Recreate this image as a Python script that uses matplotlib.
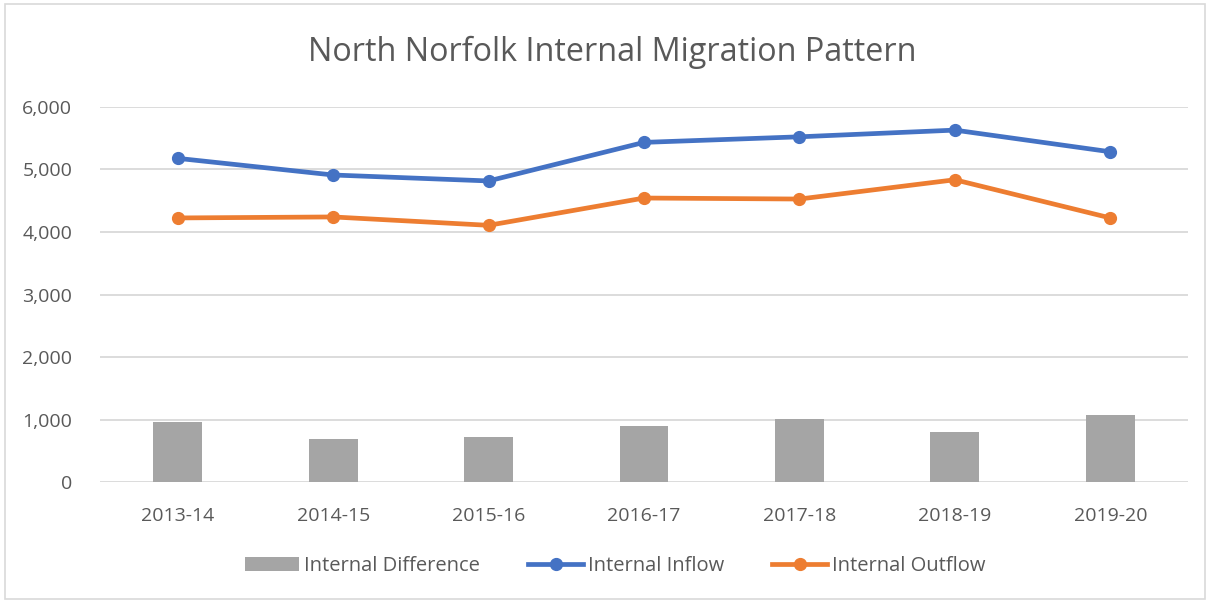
import matplotlib
matplotlib.use("Agg")
import matplotlib.pyplot as plt
from matplotlib.patches import Rectangle
from matplotlib.ticker import FuncFormatter
import numpy as np

categories = ["2013-14", "2014-15", "2015-16", "2016-17", "2017-18", "2018-19", "2019-20"]
internal_difference = [963, 695, 716, 904, 1005, 803, 1069]
internal_inflow = [5175, 4909, 4814, 5430, 5519, 5626, 5280]
internal_outflow = [4223, 4239, 4105, 4541, 4525, 4833, 4223]

plt.rcParams['font.family'] = ['Open Sans', 'DejaVu Sans']
text_col = "#595959"

fig = plt.figure(figsize=(12.16, 6.01), dpi=100)
W, H = 1216, 601
ax = fig.add_axes([100 / W, 1 - 482.3 / H, (1188 - 100) / W, (482.3 - 106.7) / H])

x = np.arange(len(categories))
b = ax.bar(x, internal_difference, width=0.315, color="#A5A5A5", label="Internal Difference", zorder=2)
l1, = ax.plot(x, internal_inflow, color="#4472C4", lw=3.4, marker="o", ms=8.5, label="Internal Inflow", zorder=3)
l2, = ax.plot(x, internal_outflow, color="#ED7D31", lw=3.4, marker="o", ms=8.5, label="Internal Outflow", zorder=3)

ax.set_xlim(-0.5, len(categories) - 0.5)
ax.set_ylim(0, 6000)
ax.set_yticks(range(0, 6001, 1000))
ax.yaxis.set_major_formatter(FuncFormatter(lambda v, p: f"{int(v):,}"))
ax.set_xticks(x)
ax.set_xticklabels(categories)
ax.grid(axis="y", color="#D9D9D9", lw=1.3, zorder=0)
ax.set_axisbelow(True)
for s in ax.spines.values():
    s.set_visible(False)
ax.tick_params(axis="both", length=0, labelsize=14, colors=text_col, labelcolor=text_col)
ax.tick_params(axis="y", pad=20)
ax.tick_params(axis="x", pad=18)

fig.text(612 / W, 1 - 52 / H, "North Norfolk Internal Migration Pattern", ha="center", va="center",
         fontsize=23.3, color=text_col)

leg = fig.legend([b, l1, l2], ["Internal Difference", "Internal Inflow", "Internal Outflow"],
                 loc="center", bbox_to_anchor=(615 / W, 1 - 566 / H), ncol=3, frameon=False,
                 fontsize=14.5, labelcolor=text_col, handlelength=2.7, handletextpad=0.25,
                 columnspacing=2.4, markerscale=1.0)

fig.patches.append(Rectangle((5 / W, 2 / H), (1205 - 5) / W, (H - 6) / H, transform=fig.transFigure,
                             fill=False, edgecolor="#D9D9D9", lw=1.2))

fig.savefig("out.png", dpi=100, facecolor="white")
